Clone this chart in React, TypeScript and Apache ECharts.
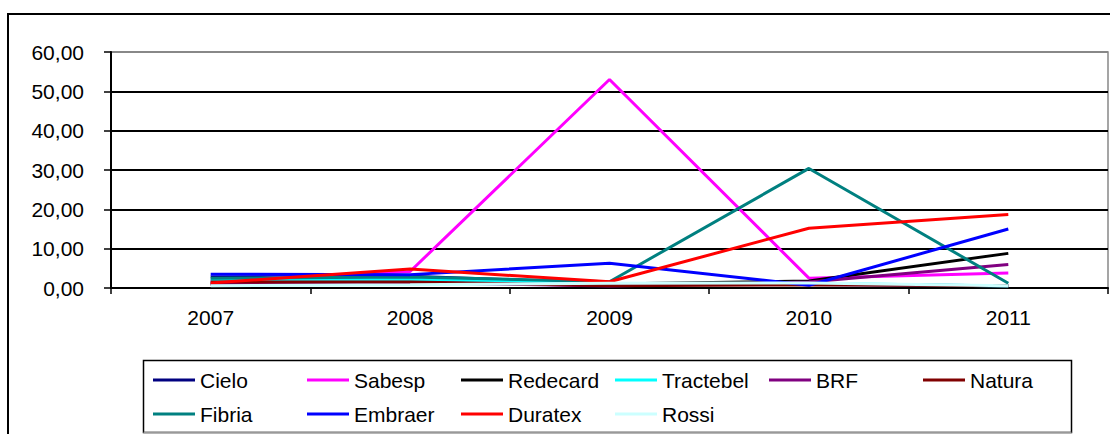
import React, { useEffect, useRef } from "react";
import * as echarts from "echarts";

// Years on the category axis
const years = ["2007", "2008", "2009", "2010", "2011"];

// Yearly values per company
const cielo = [2.8, 3.0, 1.2, 0.9, 0.6];
const sabesp = [1.8, 4.2, 53.0, 2.5, 3.8];
const redecard = [1.0, 1.2, 1.0, 1.8, 8.8];
const tractebel = [2.0, 2.2, 1.0, 1.2, 0.5];
const brf = [1.0, 1.4, 0.5, 1.5, 6.0];
const natura = [1.5, 1.5, 0.6, 0.8, 0.6];
const fibria = [2.5, 2.8, 1.6, 30.4, 1.2];
const embraer = [3.5, 3.4, 6.3, 0.7, 15.0];
const duratex = [1.3, 4.8, 1.6, 15.2, 18.7];
const rossi = [0.6, 0.8, 1.2, 1.3, 0.6];

const seriesDefs = [
  { name: "Cielo", data: cielo, color: "#000080" },
  { name: "Sabesp", data: sabesp, color: "#FF00FF" },
  { name: "Redecard", data: redecard, color: "#000000" },
  { name: "Tractebel", data: tractebel, color: "#00FFFF" },
  { name: "BRF", data: brf, color: "#800080" },
  { name: "Natura", data: natura, color: "#800000" },
  { name: "Fibria", data: fibria, color: "#008080" },
  { name: "Embraer", data: embraer, color: "#0000FF" },
  { name: "Duratex", data: duratex, color: "#FF0000" },
  { name: "Rossi", data: rossi, color: "#CCFFFF" },
];

const FONT = "'Liberation Sans', Arial, sans-serif";

export default function App() {
  const ref = useRef<HTMLDivElement>(null);

  useEffect(() => {
    if (!ref.current) return;
    const chart = echarts.init(ref.current, null, { renderer: "svg" });
    chart.setOption({
      animation: false,
      backgroundColor: "#ffffff",
      textStyle: { fontFamily: FONT, color: "#000" },
      grid: {
        left: 111,
        right: 2,
        top: 52,
        bottom: 146,
        show: true,
        borderColor: "#888888",
        borderWidth: 1.5,
      },
      xAxis: {
        type: "category",
        data: years,
        boundaryGap: true,
        axisLine: { lineStyle: { color: "#000", width: 2 } },
        axisTick: { show: true, length: 6, lineStyle: { color: "#000", width: 1.5 } },
        axisLabel: { fontSize: 21, color: "#000", fontFamily: FONT, margin: 19 },
        splitLine: { show: false },
      },
      yAxis: {
        type: "value",
        min: 0,
        max: 60,
        interval: 10,
        axisLine: { show: true, lineStyle: { color: "#000", width: 2 } },
        axisTick: { show: true, length: 7, lineStyle: { color: "#000", width: 1.5 } },
        axisLabel: {
          fontSize: 21,
          color: "#000",
          fontFamily: FONT,
          margin: 27,
          formatter: (v: number) => v.toFixed(2).replace(".", ","),
        },
        splitLine: {
          show: true,
          lineStyle: {
            color: ["#000", "#000", "#000", "#000", "#000", "#000", "#888"],
            width: 2,
          },
        },
      },
      legend: {
        left: 153,
        top: 363,
        width: 940,
        orient: "horizontal",
        itemGap: 0,
        itemWidth: 42,
        itemHeight: 3,
        icon: "rect",
        padding: 0,
        textStyle: {
          fontSize: 21,
          fontFamily: FONT,
          color: "#000",
          width: 107,
          lineHeight: 34,
        },
        data: seriesDefs.map((s) => s.name),
      },
      graphic: [
        {
          type: "rect",
          shape: { x: 8, y: 14, width: 1200, height: 500 },
          style: { fill: "none", stroke: "#000", lineWidth: 2 },
          silent: true,
        },
        {
          type: "rect",
          shape: { x: 143.5, y: 360.5, width: 928, height: 72 },
          style: { fill: "none", stroke: "#000", lineWidth: 1.5 },
          silent: true,
        },
        {
          type: "line",
          shape: { x1: 143.5, y1: 432.5, x2: 1071.5, y2: 432.5 },
          style: { stroke: "#999", lineWidth: 1.5 },
          silent: true,
        },
      ],
      series: seriesDefs.map((s) => ({
        name: s.name,
        type: "line",
        data: s.data,
        symbol: "none",
        lineStyle: { color: s.color, width: 3 },
        itemStyle: { color: s.color },
      })),
    });
    return () => chart.dispose();
  }, []);

  return (
    <div
      ref={ref}
      style={{ position: "fixed", left: 0, top: 0, width: 1110, height: 434 }}
    />
  );
}
